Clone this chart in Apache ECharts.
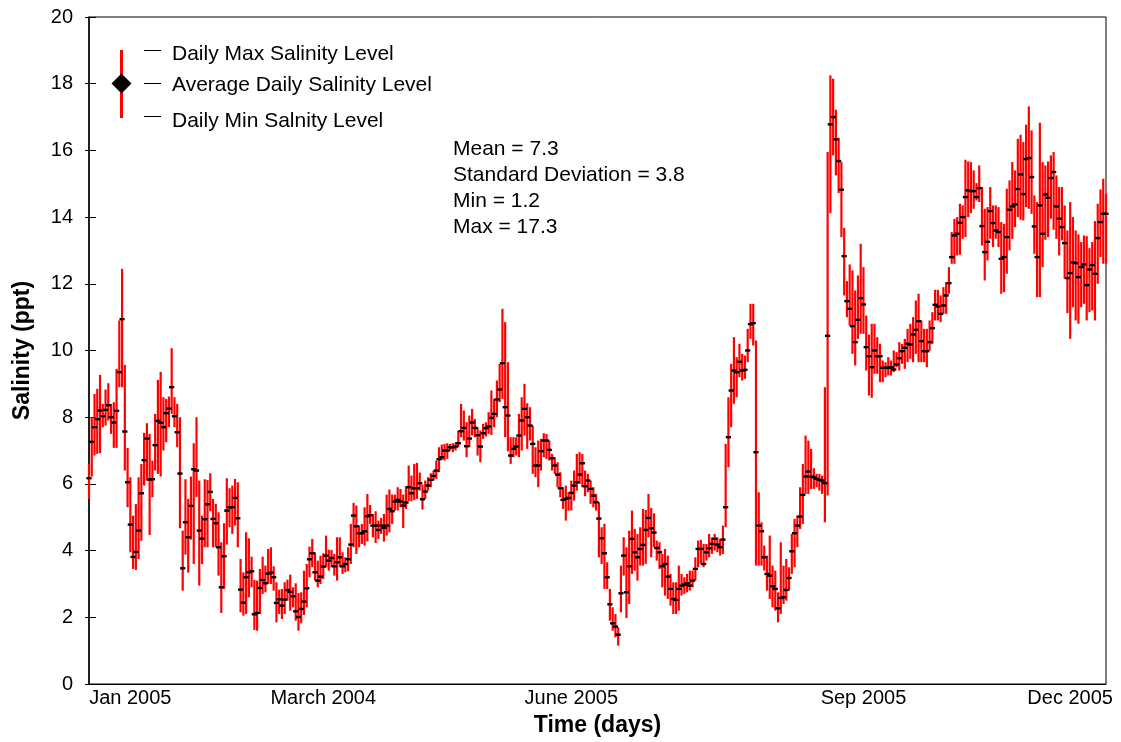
<!DOCTYPE html>
<html>
<head>
<meta charset="utf-8">
<script src="https://cdn.jsdelivr.net/npm/echarts@6/dist/echarts.min.js"></script>
<style>
html,body{margin:0;padding:0;background:#fff;}
#chart{width:1121px;height:742px;}
</style>
</head>
<body>
<div id="chart"></div>
<script>
// ---- data (one entry per day) ----
const avgVals = [
6.17,7.26,7.7,7.94,8.2,8.03,8.22,8.36,8.0,7.84,
8.19,9.35,10.94,7.57,6.05,4.78,3.81,3.96,4.6,5.72,
6.71,7.36,6.13,6.14,7.16,7.89,7.83,7.7,8.12,8.26,
8.9,8.03,7.55,6.31,3.47,4.85,4.4,5.34,6.44,6.4,
4.6,4.36,4.94,5.39,5.76,
4.95,4.82,4.1,2.9,3.83,5.2,5.3,5.3,5.58,4.97,
2.83,2.44,3.2,3.35,3.38,2.09,2.13,2.88,3.12,3.02,
3.31,3.34,3.2,2.43,2.54,2.35,2.53,2.82,2.76,2.63,
2.18,2.01,2.25,2.47,2.87,3.74,3.92,3.35,3.1,3.22,
3.52,3.85,3.7,3.78,3.53,3.65,
3.8,3.53,3.6,3.74,4.18,5.05,4.73,4.52,4.52,4.58,
5.03,5.06,4.75,4.75,4.62,4.75,4.68,4.75,5.25,5.18,
5.47,5.52,5.47,5.35,5.44,5.9,5.72,5.87,5.87,6.02,
5.54,5.77,5.95,6.12,6.24,6.4,6.74,6.8,7.0,7.0,
7.1,7.1,7.12,7.22,7.58,7.68,
7.13,7.36,7.84,7.68,7.46,7.12,7.52,7.67,7.72,7.98,
8.1,8.53,8.83,9.62,8.3,8.05,6.85,7.05,7.12,7.45,
7.9,8.25,8.0,7.75,7.2,6.55,6.55,6.98,7.3,7.3,
7.02,6.77,6.55,6.28,5.87,5.52,5.55,5.58,5.73,5.95,
6.05,6.28,6.62,5.93,6.1,
5.85,5.65,5.45,4.96,4.37,3.92,3.2,2.39,1.82,1.72,
1.48,2.72,3.85,2.75,3.53,4.35,3.95,3.8,4.05,4.17,
4.62,4.98,4.67,4.54,4.08,3.95,3.53,3.6,3.22,2.85,
2.55,2.52,2.85,2.95,2.98,3.02,2.95,3.1,3.45,4.05,
4.05,3.6,3.95,4.07,4.2,4.35,
4.18,4.1,4.33,5.3,7.4,8.8,9.4,9.35,9.66,9.4,
9.42,10.0,10.79,10.82,6.95,4.75,4.58,3.8,3.3,3.25,
2.93,2.85,2.27,2.58,2.6,2.82,3.18,3.98,4.52,4.75,
5.02,5.67,6.22,6.37,6.22,6.2,6.15,6.12,6.1,6.02,
10.44,16.78,17.0,16.33,15.68,14.82,12.83,11.48,11.25,10.73,
10.25,10.92,11.57,11.38,10.1,9.83,9.5,10.0,9.83,9.83,
9.48,9.48,9.48,9.5,9.43,9.58,9.77,9.98,10.08,10.2,
10.18,10.48,10.62,10.88,10.28,9.98,9.98,10.25,10.67,11.37,
11.32,11.1,11.35,11.65,12.02,
12.8,13.45,13.5,13.83,14.0,14.6,14.8,14.78,14.78,14.6,
14.87,13.73,12.95,13.26,14.18,13.82,13.6,13.55,12.75,12.8,
13.4,14.22,14.32,14.38,14.84,15.28,14.69,15.74,15.77,15.2,
13.72,12.8,14.35,13.5,14.68,14.58,15.17,15.35,14.32,13.95,
13.7,13.22,12.17,12.32,12.64,12.62,12.2,12.5,12.58,11.96,
12.43,12.56,12.3,13.37,13.85,14.1,14.1
];
const minVals = [
5.55,6.22,6.85,6.9,6.92,7.7,7.75,7.9,7.5,7.08,
7.08,8.9,8.9,6.4,5.3,3.95,3.45,3.42,3.75,4.3,
5.95,6.1,4.47,5.6,6.4,6.3,6.22,7.0,7.25,7.7,
8.1,7.7,7.1,4.67,2.8,3.88,3.34,4.33,3.6,5.6,
2.95,3.6,4.1,4.1,5.18,
4.1,4.1,3.25,2.13,2.85,4.18,4.7,4.5,4.75,4.1,
2.15,2.05,2.1,2.6,2.9,1.62,1.6,2.1,2.7,2.75,
3.0,3.0,2.8,1.85,2.1,1.95,2.1,2.5,2.2,2.3,
1.9,1.6,1.82,2.07,2.3,3.2,3.5,3.1,2.9,3.0,
3.15,3.5,3.4,3.5,3.25,3.1,
3.5,3.3,3.35,3.38,3.6,4.1,3.9,4.1,4.2,4.15,
4.28,4.8,4.4,4.23,4.35,4.5,4.27,4.45,4.55,4.8,
5.2,5.2,5.3,4.68,5.25,5.48,5.48,5.52,5.55,5.8,
5.23,5.55,5.8,5.9,6.1,6.15,6.35,6.72,6.7,6.75,
7.0,6.95,7.0,7.1,7.4,7.3,
6.8,7.1,7.45,7.4,6.85,6.65,7.35,7.42,7.5,7.47,
7.7,8.0,8.45,8.55,7.4,6.98,6.6,6.8,6.85,6.8,
7.0,7.45,7.05,7.3,6.3,6.2,5.9,6.4,6.8,6.75,
6.7,6.4,6.3,5.9,5.6,5.25,4.9,5.2,5.2,5.5,
5.8,6.0,5.9,5.63,5.75,
5.4,5.3,5.2,3.8,3.6,2.85,2.85,1.9,1.6,1.4,
1.15,2.15,3.25,1.98,2.4,3.3,3.4,3.1,3.55,3.55,
3.6,4.4,3.8,4.1,3.7,3.45,2.9,2.65,2.55,2.35,
2.1,2.1,2.2,2.65,2.7,2.75,2.8,2.9,3.1,3.5,
3.6,3.5,3.7,3.8,3.9,4.0,
3.95,3.85,3.9,4.7,6.5,7.7,8.4,8.6,9.2,9.1,
9.15,9.65,10.35,10.15,3.55,3.55,3.55,3.4,2.8,2.55,
2.3,2.2,1.85,2.1,2.4,2.5,2.8,3.3,3.5,4.1,
4.65,4.8,5.7,5.7,5.85,5.85,5.9,5.8,5.7,4.85,
5.65,14.12,15.85,15.25,14.72,13.4,11.65,11.0,10.75,9.9,
9.55,10.35,10.5,10.5,9.4,8.65,8.58,9.3,9.3,9.05,
9.05,9.2,9.25,9.25,9.35,9.5,9.4,9.6,9.45,9.65,
9.75,9.65,9.9,9.65,9.65,9.65,9.5,10.0,10.2,10.9,
10.9,10.85,11.1,11.1,11.7,
12.6,12.6,12.85,12.87,13.35,13.4,14.0,14.12,14.25,14.5,
14.45,13.15,12.1,12.7,13.35,13.1,13.35,13.1,11.7,11.75,
12.3,13.0,13.35,13.7,14.0,13.92,13.9,14.3,14.25,14.1,
12.9,11.6,11.6,12.5,13.32,13.4,13.95,13.62,13.35,12.85,
13.3,12.15,11.12,10.35,11.3,10.9,10.8,11.3,11.4,10.9,
11.15,11.2,10.9,12.0,12.8,12.6,12.6
];
const maxVals = [
6.6,8.0,8.7,8.85,9.27,8.4,8.83,9.02,8.4,8.45,
9.45,10.9,12.45,9.57,7.08,6.2,5.05,5.4,6.2,6.6,
7.53,7.82,7.5,6.7,8.1,9.12,9.36,8.6,8.55,8.62,
10.07,8.6,8.4,8.0,4.6,6.14,5.55,6.22,7.22,8.0,
6.1,5.05,6.14,6.12,6.32,
5.55,5.4,5.15,4.25,4.82,6.17,5.87,5.95,6.15,6.05,
3.75,3.35,4.55,4.37,3.82,3.12,3.1,3.45,3.82,3.55,
4.05,4.1,3.53,3.05,2.83,2.85,3.05,3.13,3.28,2.9,
3.02,2.73,2.75,3.4,3.6,4.12,4.35,3.95,3.7,3.85,
3.92,4.45,4.03,4.02,3.9,4.4,
4.4,3.95,3.8,4.1,4.8,5.43,5.35,4.75,4.8,5.3,
5.7,5.37,5.1,5.18,4.9,4.98,5.1,5.68,5.83,5.68,
5.68,5.9,5.85,5.68,5.93,6.55,6.25,6.6,6.63,6.34,
5.98,6.1,6.2,6.32,6.4,6.7,7.1,7.18,7.2,7.22,
7.2,7.22,7.25,7.6,8.4,8.2,
7.85,8.05,8.25,7.95,7.7,7.6,7.8,7.85,8.15,8.8,
8.55,9.1,9.6,11.25,10.85,9.65,7.4,7.4,7.4,8.1,
8.6,9.0,8.42,8.3,7.75,7.1,7.3,7.35,7.52,7.5,
7.3,6.9,6.8,6.65,6.35,5.9,5.95,5.75,6.1,6.4,
6.9,6.95,6.9,6.4,6.3,
6.1,5.9,5.7,5.45,4.7,4.8,3.65,2.85,2.3,2.1,
1.7,3.55,4.4,4.1,4.6,5.2,4.65,4.5,4.7,5.25,
5.22,5.7,5.28,5.12,4.3,4.25,3.9,4.05,3.85,3.3,
3.05,3.05,3.55,3.3,3.2,3.3,3.4,3.4,3.8,4.3,
4.32,4.2,4.2,4.5,4.4,4.5,
4.4,4.35,4.75,7.2,8.6,9.6,10.4,9.8,10.2,9.9,
9.85,10.65,11.4,11.4,10.3,5.75,4.85,4.15,3.85,4.45,
3.55,3.4,2.75,4.25,3.55,3.75,3.5,4.5,4.95,5.05,
5.9,6.6,7.45,7.3,7.05,6.47,6.3,6.3,6.25,8.9,
15.95,18.25,18.15,17.22,16.38,15.65,13.68,12.08,12.58,12.4,
11.8,12.25,13.2,12.5,11.05,10.48,10.8,10.8,10.4,10.2,
9.7,9.65,9.8,9.7,10.0,9.95,10.25,10.2,10.35,10.65,
10.8,11.0,11.5,11.7,10.9,10.65,10.65,10.9,11.15,11.82,
11.82,11.65,11.9,12.05,12.5,
13.55,13.95,14.0,14.4,14.35,15.72,15.67,15.65,15.4,15.02,
15.55,14.9,14.25,14.3,14.9,14.35,14.35,14.3,13.85,13.8,
14.85,15.1,15.65,15.4,16.35,16.47,16.25,16.77,17.32,16.6,
14.65,14.45,16.83,15.65,15.55,15.67,15.85,15.95,15.25,14.9,
14.9,14.35,13.6,14.45,14.0,13.6,13.48,13.25,13.45,13.43,
13.07,13.25,13.88,14.4,14.83,15.15,14.7
];
const tickLabels = ['Jan 2005', 'March 2004', 'June 2005', 'Sep 2005', 'Dec 2005'];
const tickDays = [15, 85, 175, 281, 356];
const legendLabels = ['Daily Max Salinity Level', 'Average Daily Salinity Level', 'Daily Min Salnity Level'];
const statLines = ['Mean = 7.3', 'Standard Deviation = 3.8', 'Min = 1.2', 'Max = 17.3'];
const yTicks = { min: 0, max: 20, interval: 2 };

if (avgVals.length !== minVals.length || avgVals.length !== maxVals.length) {
  throw new Error('length mismatch ' + avgVals.length + ' ' + minVals.length + ' ' + maxVals.length);
}

const N = avgVals.length;
const days = [];
const rows = [];
for (let i = 0; i < N; i++) {
  days.push(String(i + 1));
  rows.push([i, avgVals[i], minVals[i], maxVals[i]]);
}

const FONT = '"Liberation Sans", Arial, Helvetica, sans-serif';

const chart = echarts.init(document.getElementById('chart'), null, { renderer: 'canvas' });

function renderRange(params, api) {
  const i = api.value(0);
  const lo = api.coord([i, api.value(2)]);
  const hi = api.coord([i, api.value(3)]);
  return {
    type: 'line',
    shape: { x1: lo[0], y1: lo[1], x2: hi[0], y2: hi[1] },
    style: { stroke: '#ff0000', lineWidth: 2.2 }
  };
}
function renderAvg(params, api) {
  const i = api.value(0);
  const p = api.coord([i, api.value(1)]);
  return {
    type: 'line',
    shape: { x1: p[0] - 2.6, y1: p[1], x2: p[0] + 2.6, y2: p[1] },
    style: { stroke: '#000', lineWidth: 2.4 }
  };
}

const graphics = [];
// legend symbol
graphics.push({ type: 'line', shape: { x1: 121.5, y1: 50, x2: 121.5, y2: 118 }, style: { stroke: '#ff0000', lineWidth: 3 }, z: 10 });
graphics.push({ type: 'polygon', shape: { points: [[121.5, 73.5], [131.5, 83.5], [121.5, 93.5], [111.5, 83.5]] }, style: { fill: '#000' }, z: 11 });
const legY = [50.5, 83.5, 116.5];
const legTextY = [54, 85, 121];
for (let k = 0; k < 3; k++) {
  graphics.push({ type: 'line', shape: { x1: 144, y1: legY[k], x2: 161, y2: legY[k] }, style: { stroke: '#000', lineWidth: 1 }, z: 10 });
  graphics.push({ type: 'text', x: 172, y: legTextY[k], style: { text: legendLabels[k], font: '21px ' + FONT, fill: '#000', verticalAlign: 'middle', align: 'left' }, z: 10 });
}
for (let k = 0; k < statLines.length; k++) {
  graphics.push({ type: 'text', x: 453, y: 149 + k * 26, style: { text: statLines[k], font: '21px ' + FONT, fill: '#000', verticalAlign: 'middle', align: 'left' }, z: 10 });
}

chart.setOption({
  animation: false,
  backgroundColor: '#fff',
  grid: { left: 89, right: 15, top: 17, bottom: 58, show: true, borderColor: '#000', borderWidth: 1, backgroundColor: 'transparent' },
  xAxis: {
    type: 'category',
    data: days,
    boundaryGap: false,
    name: 'Time (days)',
    nameLocation: 'middle',
    nameGap: 30,
    nameTextStyle: { fontFamily: FONT, fontSize: 23, fontWeight: 'bold', color: '#000' },
    axisLine: { lineStyle: { color: '#000', width: 1 } },
    axisTick: { show: false },
    splitLine: { show: false },
    axisLabel: {
      interval: function (idx) { return tickDays.indexOf(idx) >= 0; },
      formatter: function (val, idx) { const k = tickDays.indexOf(idx); return k >= 0 ? tickLabels[k] : ''; },
      margin: 4,
      fontFamily: FONT, fontSize: 20, color: '#000'
    }
  },
  yAxis: [{
    type: 'value',
    min: yTicks.min, max: yTicks.max, interval: yTicks.interval,
    name: 'Salinity (ppt)',
    nameLocation: 'middle',
    nameGap: 55,
    nameTextStyle: { fontFamily: FONT, fontSize: 23, fontWeight: 'bold', color: '#000' },
    axisLine: { show: true, lineStyle: { color: '#000', width: 1.5 } },
    axisTick: { show: true, inside: true, length: 7, lineStyle: { color: '#000', width: 1 } },
    splitLine: { show: false },
    axisLabel: { margin: 16, fontFamily: FONT, fontSize: 20, color: '#000' }
  }, {
    type: 'value',
    position: 'left',
    min: yTicks.min, max: yTicks.max, interval: yTicks.interval,
    axisLine: { show: false },
    axisTick: { show: true, inside: false, length: 4, lineStyle: { color: '#000', width: 1 } },
    splitLine: { show: false },
    axisLabel: { show: false }
  }],
  graphic: graphics,
  series: [{
    type: 'custom',
    renderItem: renderRange,
    data: rows,
    encode: { x: 0, y: [1, 2, 3] },
    z: 2
  }, {
    type: 'custom',
    renderItem: renderAvg,
    data: rows,
    encode: { x: 0, y: [1, 2, 3] },
    z: 3
  }]
});
</script>
</body>
</html>
